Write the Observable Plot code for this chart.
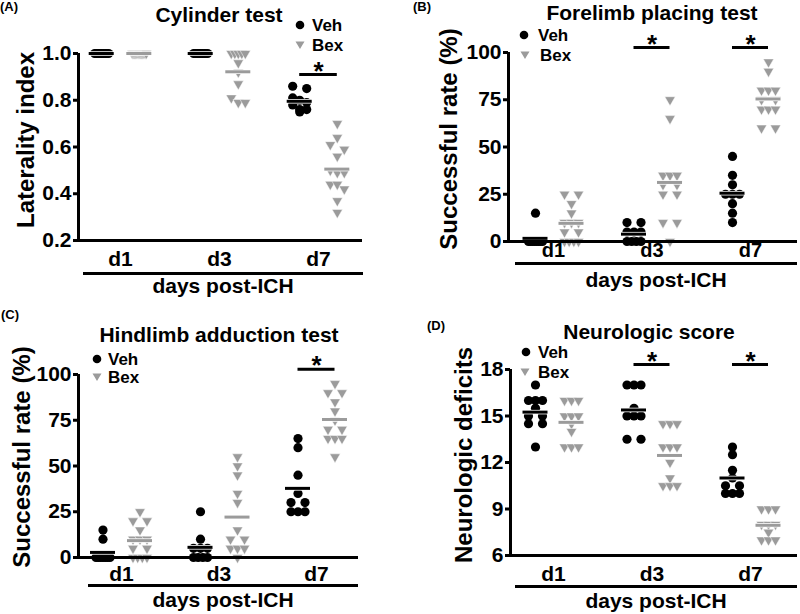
<!DOCTYPE html>
<html>
<head>
<meta charset="utf-8">
<script src="https://cdn.jsdelivr.net/npm/d3@7"></script>
<script src="https://cdn.jsdelivr.net/npm/@observablehq/plot@0.6"></script>
<style>
  html, body { margin: 0; padding: 0; background: #fff; }
  #root { position: relative; width: 800px; height: 614px; overflow: hidden; background: #fff;
          font-family: "Liberation Sans", Arial, Helvetica, sans-serif; font-weight: bold; color: #000; }
  .panel { position: absolute; width: 400px; height: 307px; }
  .panel svg.chart { position: absolute; left: 0; top: 0; overflow: visible; }
  .t { position: absolute; white-space: nowrap; line-height: 1; transform: translate(-50%, -50%); }
  .l { position: absolute; white-space: nowrap; line-height: 1; transform: translate(0, -50%); }
  .ul { position: absolute; height: 0; border-top: 3px solid #000; }
</style>
</head>
<body>
<div id="root"></div>
<script>
// ---------- data ----------
const days = ["d1", "d3", "d7"];
const groups = ["Veh", "Bex"];

// (A) Cylinder test – laterality index, per day [d1, d3, d7]
const cylVeh = [
  [1, 1, 1, 1, 1, 1, 1, 1, 1],
  [1, 1, 1, 1, 1, 1, 1, 1, 1],
  [0.86, 0.85, 0.81, 0.80, 0.79, 0.78, 0.76, 0.76, 0.75]
];
const cylBex = [
  [1, 1, 1, 1, 1, 1, 1, 1, 1, 1, 1, 1, 1],
  [1, 1, 1, 1, 1, 0.96, 0.92, 0.87, 0.81, 0.79, 0.79],
  [0.70, 0.64, 0.61, 0.59, 0.56, 0.50, 0.49, 0.49, 0.44, 0.44, 0.42, 0.37, 0.32]
];
const cylSig = [{day: 2, y: 0.91}];
const cylTicks = [0.2, 0.4, 0.6, 0.8, 1.0];

// (B) Forelimb placing test – successful rate (%)
const foreVeh = [
  [15, 0, 0, 0, 0, 0, 0, 0, 0],
  [10, 10, 5, 5, 5, 0, 0, 0, 0],
  [45, 35, 30, 25, 25, 25, 20, 15, 10]
];
const foreBex = [
  [25, 25, 20, 15, 10, 10, 10, 5, 5, 0, 0, 0, 0],
  [75, 65, 35, 35, 35, 30, 30, 25, 25, 10, 10, 0],
  [95, 90, 80, 80, 80, 75, 75, 70, 70, 70, 60, 60]
];
const foreSig = [{day: 1, y: 102.6}, {day: 2, y: 102.6}];
const pctTicks = [0, 25, 50, 75, 100];

// (C) Hindlimb adduction test – successful rate (%)
const hindVeh = [
  [15, 10, 0, 0, 0, 0, 0, 0, 0],
  [25, 10, 5, 5, 5, 0, 0, 0, 0],
  [65, 60, 45, 35, 30, 30, 25, 25, 25]
];
const hindBex = [
  [25, 20, 20, 15, 10, 10, 10, 5, 5, 0, 0, 0, 0],
  [55, 50, 45, 35, 30, 15, 10, 10, 5, 5, 5, 0],
  [95, 90, 90, 85, 80, 75, 70, 70, 65, 65, 65, 55]
];
const hindSig = [{day: 2, y: 102.9}];

// (D) Neurologic score – neurologic deficits
const neuroVeh = [
  [17, 16, 16, 16, 15.5, 15, 15, 14.5, 14.5, 13],
  [17, 17, 17, 15.5, 15, 15, 15, 13.5, 13.5],
  [13, 12.5, 11.5, 11, 10.5, 10.5, 10, 10, 10]
];
const neuroBex = [
  [16, 16, 16, 15, 15, 15, 14.5, 14, 13, 13, 13],
  [14.5, 14.5, 14.5, 13, 13, 13, 12, 11, 10.5, 10.5, 10.5],
  [9, 9, 9, 8, 8, 8, 7.5, 7, 7, 7]
];
const neuroSig = [{day: 1, y: 18.32}, {day: 2, y: 18.32}];
const neuroTicks = [6, 9, 12, 15, 18];

// ---------- helpers ----------
const GRAY = "#9b9b9b";
const triDown = {
  draw(context, size) {
    const y = -Math.sqrt(size / (Math.sqrt(3) * 3));
    const s3 = Math.sqrt(3);
    context.moveTo(0, -y * 2);
    context.lineTo(-s3 * y, y);
    context.lineTo(s3 * y, y);
    context.closePath();
  }
};

// Prism-like scatter: values closer than a few pixels share a row and are spread sideways
function swarm(values, pxPerUnit, halfW) {
  const pts = values.map(v => ({v})).sort((a, b) => b.v - a.v);
  const rows = [];
  for (const p of pts) {
    const last = rows[rows.length - 1];
    if (last && Math.abs(last[0].v - p.v) * pxPerUnit < 5) last.push(p); else rows.push([p]);
  }
  for (const row of rows) {
    const k = row.length;
    row.forEach((p, i) => p.off = k === 1 ? 0 : -halfW + 2 * halfW * i / (k - 1));
  }
  return pts;
}

function el(parent, cls, text, x, y, size, extra) {
  const d = document.createElement("div");
  d.className = cls;
  if (text != null) d.textContent = text;
  d.style.left = x + "px";
  d.style.top = y + "px";
  if (size) d.style.fontSize = size + "px";
  if (extra) Object.assign(d.style, extra);
  parent.appendChild(d);
  return d;
}

function legendSym(parent, kind, x, y) {
  const ns = "http://www.w3.org/2000/svg";
  const s = document.createElementNS(ns, "svg");
  s.setAttribute("width", 12); s.setAttribute("height", 12);
  s.style.position = "absolute"; s.style.left = (x - 6) + "px"; s.style.top = (y - 6) + "px";
  if (kind === "Veh") {
    const c = document.createElementNS(ns, "circle");
    c.setAttribute("cx", 6); c.setAttribute("cy", 6); c.setAttribute("r", 4.3); c.setAttribute("fill", "#000");
    s.appendChild(c);
  } else {
    const p = document.createElementNS(ns, "path");
    p.setAttribute("d", "M1.5,2.5 L10.5,2.5 L6,10 Z"); p.setAttribute("fill", GRAY);
    s.appendChild(p);
  }
  parent.appendChild(s);
}

function panel(cfg) {
  const root = document.getElementById("root");
  const box = document.createElement("div");
  box.className = "panel";
  box.style.left = cfg.ox + "px"; box.style.top = cfg.oy + "px";
  root.appendChild(box);

  const s = (cfg.d7px - cfg.d1px) / 2;              // px per day slot
  const x0 = -(cfg.d1px - cfg.axisX) / s;
  const x1 = 2 + (cfg.right - cfg.d7px) / s;
  const pxu = (cfg.yBot - cfg.yTop) / (cfg.yDomain[1] - cfg.yDomain[0]);
  const g = cfg.gOff / s;

  const pts = [], means = [];
  [["Veh", cfg.veh, -1], ["Bex", cfg.bex, 1]].forEach(([grp, arr, sign]) => {
    arr.forEach((vals, di) => {
      const center = di + sign * g;
      swarm(vals, pxu, 7).forEach(p => pts.push({group: grp, value: p.v, x: center + p.off / s}));
      means.push({group: grp, mean: d3.mean(vals), x: center});
    });
  });
  const half = 12.5 / s;
  const veh = pts.filter(d => d.group === "Veh");
  const bex = pts.filter(d => d.group === "Bex");
  const mVeh = means.filter(d => d.group === "Veh");
  const mBex = means.filter(d => d.group === "Bex");

  const chart = Plot.plot({
    width: 400,
    height: 307,
    marginLeft: cfg.axisX - cfg.ox,
    marginRight: cfg.ox + 400 - cfg.right,
    marginTop: cfg.yTop - cfg.oy,
    marginBottom: cfg.oy + 307 - cfg.yBot,
    x: {domain: [x0, x1]},
    y: {domain: cfg.yDomain},
    style: {fontFamily: '"Liberation Sans", Arial, sans-serif', background: "transparent", color: "#000"},
    marks: [
      Plot.dot(veh, {x: "x", y: "value", r: 4.6, fill: "#000", symbol: "circle"}),
      Plot.dot(bex, {x: "x", y: "value", r: 3.9, fill: GRAY, stroke: "#fff", strokeWidth: 0.5, symbol: triDown}),
      Plot.ruleY(mVeh, {y: "mean", x1: d => d.x - half, x2: d => d.x + half, stroke: "#fff", strokeWidth: 4.5}),
      Plot.ruleY(mVeh, {y: "mean", x1: d => d.x - half, x2: d => d.x + half, stroke: "#000", strokeWidth: 3}),
      Plot.ruleY(mBex, {y: "mean", x1: d => d.x - half, x2: d => d.x + half, stroke: "#fff", strokeWidth: 4.5}),
      Plot.ruleY(mBex, {y: "mean", x1: d => d.x - half, x2: d => d.x + half, stroke: GRAY, strokeWidth: 3}),
      Plot.ruleY(cfg.sig, {y: "y", x1: d => d.day - g, x2: d => d.day + g, stroke: "#000", strokeWidth: 3}),
      Plot.text(cfg.sig, {x: "day", y: "y", text: () => "*", fontSize: 26, fontWeight: "bold", lineAnchor: "bottom", dy: 5, fill: "#000"}),
      Plot.ruleX([x0], {stroke: "#000", strokeWidth: 3}),
      Plot.ruleY([cfg.yDomain[0]], {stroke: "#000", strokeWidth: 3}),
      Plot.axisY(cfg.yTicks, {tickSize: 5, tickPadding: 2, tickFormat: cfg.fmt, fontSize: 21, fontWeight: "bold",
                              strokeWidth: 3, label: null}),
      Plot.axisX([0, 1, 2], {tickSize: 0, tickPadding: cfg.xPad, tickFormat: i => days[i], fontSize: cfg.xFont,
                              fontWeight: "bold", label: null})
    ]
  });
  chart.classList.add("chart");
  box.appendChild(chart);

  // panel letter, title, y label, legend, x group label
  el(box, "l", cfg.letter, cfg.letterPos[0], cfg.letterPos[1], 13, {transform: "none"});
  el(box, "t", cfg.title, cfg.titlePos[0], cfg.titlePos[1], 21);
  el(box, "t", cfg.ylabel, cfg.ylabPos[0], cfg.ylabPos[1], 24, {transform: "translate(-50%, -50%) rotate(-90deg)"});
  groups.forEach((grp, i) => {
    const [sx, sy, tx] = cfg.legend[i];
    legendSym(box, grp, sx, sy);
    el(box, "l", grp, tx, sy, 17);
  });
  el(box, "ul", null, cfg.ul[0], cfg.ul[2] - 1.5, null, {width: (cfg.ul[1] - cfg.ul[0]) + "px"});
  el(box, "t", "days post-ICH", (cfg.ul[0] + cfg.ul[1]) / 2, cfg.xlabY, 21);
}

const fmt1 = d => d.toFixed(1);
const fmt0 = d => String(d);

panel({
  ox: 0, oy: 0, axisX: 78, right: 362, yTop: 53, yBot: 240, d1px: 120, d7px: 318, gOff: 18.8, xPad: 11, xFont: 21,
  yDomain: [0.2, 1.0], yTicks: cylTicks, fmt: fmt1, veh: cylVeh, bex: cylBex, sig: cylSig,
  letter: "(A)", letterPos: [0, 0], title: "Cylinder test", titlePos: [219, 14],
  ylabel: "Laterality index", ylabPos: [26, 140],
  legend: [[300, 25, 312], [300, 45, 312]], ul: [83, 363, 273], xlabY: 285
});
panel({
  ox: 400, oy: 0, axisX: 508, right: 797, yTop: 52, yBot: 241, d1px: 553, d7px: 750, gOff: 18, xPad: 1, xFont: 20,
  yDomain: [0, 100], yTicks: pctTicks, fmt: fmt0, veh: foreVeh, bex: foreBex, sig: foreSig,
  letter: "(B)", letterPos: [13, 0], title: "Forelimb placing test", titlePos: [252, 12],
  ylabel: "Successful rate (%)", ylabPos: [49, 139],
  legend: [[124, 35, 138], [125, 55, 140]], ul: [115, 397, 263], xlabY: 279
});
panel({
  ox: 0, oy: 307, axisX: 78, right: 358, yTop: 374, yBot: 557, d1px: 121, d7px: 316, gOff: 18.5, xPad: 9, xFont: 21,
  yDomain: [0, 100], yTicks: pctTicks, fmt: fmt0, veh: hindVeh, bex: hindBex, sig: hindSig,
  letter: "(C)", letterPos: [1, 1], title: "Hindlimb adduction test", titlePos: [219, 27],
  ylabel: "Successful rate (%)", ylabPos: [22, 150],
  legend: [[97, 52, 108], [97, 70, 108]], ul: [88, 358, 278.5], xlabY: 292
});
panel({
  ox: 400, oy: 307, axisX: 510, right: 797, yTop: 369, yBot: 555, d1px: 553, d7px: 750, gOff: 18, xPad: 11, xFont: 21,
  yDomain: [6, 18], yTicks: neuroTicks, fmt: fmt0, veh: neuroVeh, bex: neuroBex, sig: neuroSig,
  letter: "(D)", letterPos: [27, 12], title: "Neurologic score", titlePos: [249, 23.5],
  ylabel: "Neurologic deficits", ylabPos: [64, 148],
  legend: [[126, 45, 138], [125, 65, 138]], ul: [115, 397, 279], xlabY: 293
});
</script>
</body>
</html>
